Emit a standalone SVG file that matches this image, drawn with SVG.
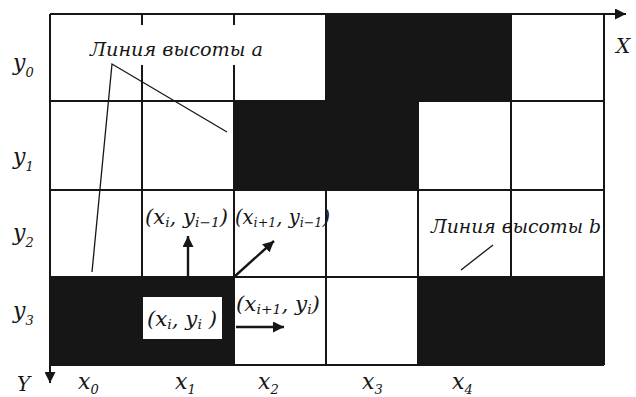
<svg xmlns="http://www.w3.org/2000/svg" width="636" height="397" viewBox="0 0 636 397">
<defs>
<style>
.blk{fill:#161616}
.g{stroke:#161616;stroke-width:2;fill:none}
.ld{stroke:#161616;stroke-width:1.3;fill:none}
.ar{stroke:#161616;stroke-width:2.4;fill:none}
.t{font-family:"DejaVu Serif","Liberation Serif",serif;font-style:italic;fill:#161616}
.m{font-size:20px}
.s{font-size:13px}
</style>
<marker id="ah" viewBox="0 0 10 10" refX="10" refY="5" markerWidth="11" markerHeight="11" markerUnits="userSpaceOnUse" orient="auto">
<path d="M0 0L10 5L0 10z" fill="#161616"/>
</marker>
</defs>
<rect width="636" height="397" fill="#fff"/>
<g id="cells">
<rect class="blk" x="326" y="14" width="185" height="87"/>
<rect class="blk" x="233" y="101" width="185" height="89"/>
<rect class="blk" x="50" y="277" width="184" height="88"/>
<rect class="blk" x="418" y="277" width="186" height="88"/>
</g>
<g id="grid">
<path class="g" d="M50 101H604M50 190H604M50 277H604M50 365H604M142 14V365M234 14V365M326 14V365M418 14V365M511 14V277M604 14V365"/>
</g>
<g id="axes">
<path class="g" d="M50 14H626" marker-end="url(#ah)"/>
<path class="g" d="M50 14V383" marker-end="url(#ah)"/>
<text class="t" x="616" y="53" font-size="20">X</text>
<text class="t" x="17" y="391" font-size="20">Y</text>
</g>
<g id="row-labels" class="t">
<text x="13" y="70" font-size="22">y<tspan class="s" dy="7">0</tspan></text>
<text x="13" y="164" font-size="22">y<tspan class="s" dy="7">1</tspan></text>
<text x="13" y="240" font-size="22">y<tspan class="s" dy="7">2</tspan></text>
<text x="13" y="318" font-size="22">y<tspan class="s" dy="7">3</tspan></text>
</g>
<g id="col-labels" class="t">
<text x="78" y="389" font-size="22">x<tspan class="s" dy="5">0</tspan></text>
<text x="175" y="389" font-size="22">x<tspan class="s" dy="5">1</tspan></text>
<text x="258" y="389" font-size="22">x<tspan class="s" dy="5">2</tspan></text>
<text x="362" y="389" font-size="22">x<tspan class="s" dy="5">3</tspan></text>
<text x="452" y="389" font-size="22">x<tspan class="s" dy="5">4</tspan></text>
</g>
<g id="label-a">
<rect x="88" y="25" width="180" height="40" fill="#fff"/>
<text class="t" x="90" y="56" font-size="18" textLength="173" lengthAdjust="spacingAndGlyphs">Линия высоты a</text>
<path class="ld" d="M227 132L112 64L92 272"/>
</g>
<g id="label-b">
<text class="t" x="431" y="233" font-size="18" textLength="170" lengthAdjust="spacingAndGlyphs">Линия высоты b</text>
<path class="ld" d="M461 270L493 245"/>
</g>
<g id="node-xi-yi">
<rect x="143" y="297" width="79" height="42" fill="#fff"/>
<text class="t m" x="147" y="326" textLength="70" lengthAdjust="spacingAndGlyphs">(x<tspan class="s" dy="3">i</tspan><tspan dy="-3">, y</tspan><tspan class="s" dy="3">i</tspan><tspan dy="-3"> )</tspan></text>
</g>
<g id="node-xi-yim1">
<text class="t m" x="145" y="224" textLength="83" lengthAdjust="spacingAndGlyphs">(x<tspan class="s" dy="3">i</tspan><tspan dy="-3">, y</tspan><tspan class="s" dy="3">i−1</tspan><tspan dy="-3">)</tspan></text>
</g>
<g id="node-xi1-yim1">
<text class="t m" x="235" y="224" textLength="95" lengthAdjust="spacingAndGlyphs">(x<tspan class="s" dy="3">i+1</tspan><tspan dy="-3">, y</tspan><tspan class="s" dy="3">i−1</tspan><tspan dy="-3">)</tspan></text>
</g>
<g id="node-xi1-yi">
<text class="t m" x="236" y="311" textLength="84" lengthAdjust="spacingAndGlyphs">(x<tspan class="s" dy="3">i+1</tspan><tspan dy="-3">, y</tspan><tspan class="s" dy="3">i</tspan><tspan dy="-3">)</tspan></text>
</g>
<g id="connectors">
<path class="ar" d="M188 277V236" marker-end="url(#ah)"/>
<path class="ar" d="M234 277L274 241" marker-end="url(#ah)"/>
<path class="ar" d="M236 327H284" marker-end="url(#ah)"/>
</g>
</svg>
